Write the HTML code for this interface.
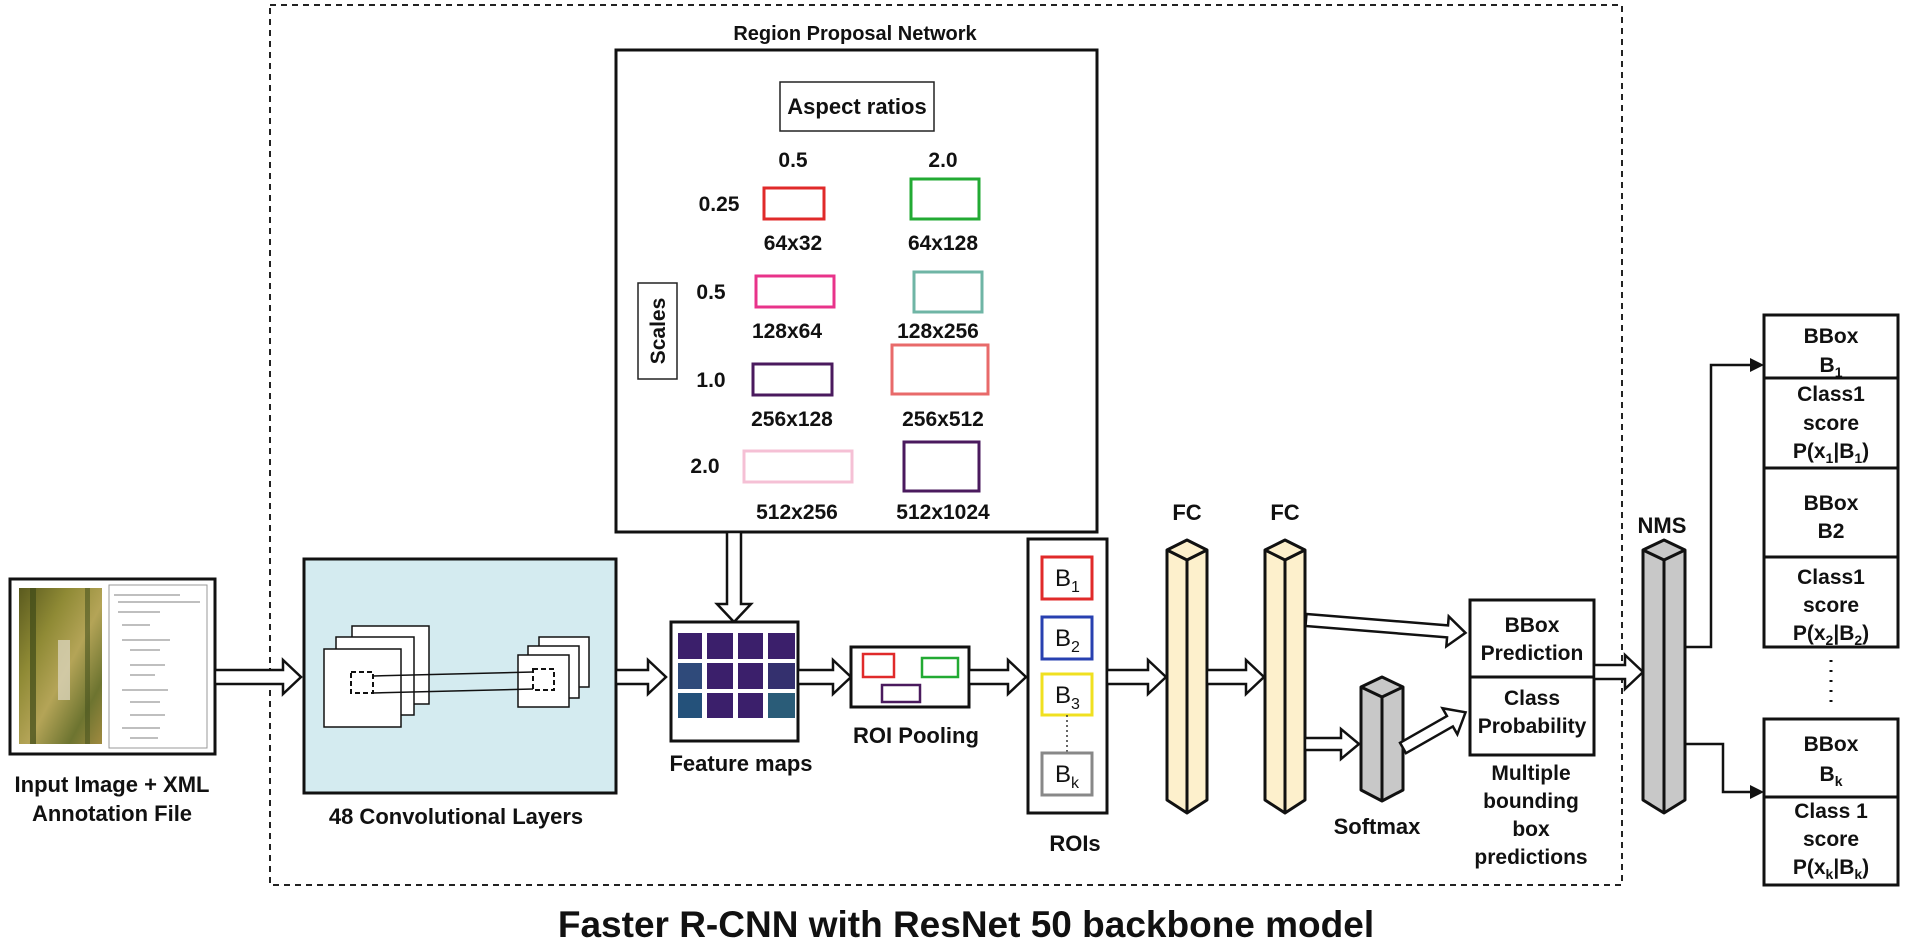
<!DOCTYPE html>
<html><head><meta charset="utf-8"><style>
html,body{margin:0;padding:0;background:#fff;}
svg{display:block;}
text{font-family:"Liberation Sans",Arial,sans-serif;font-weight:bold;fill:#111;}
</style></head><body>
<svg width="1905" height="941" viewBox="0 0 1905 941" xmlns="http://www.w3.org/2000/svg">
<defs>
<linearGradient id="photo" x1="0" y1="0" x2="1" y2="1">
<stop offset="0" stop-color="#5a5a1e"/><stop offset="0.3" stop-color="#8f8a35"/><stop offset="0.55" stop-color="#b4a457"/><stop offset="0.8" stop-color="#6d7430"/><stop offset="1" stop-color="#a08a40"/>
</linearGradient>
</defs>
<!-- dashed outer -->
<rect x="270" y="5" width="1352" height="880" fill="none" stroke="#222" stroke-width="2" stroke-dasharray="6,5"/>
<text x="966" y="937" font-size="37" text-anchor="middle">Faster R-CNN with ResNet 50 backbone model</text>

<!-- RPN -->
<text x="855" y="40" font-size="20" text-anchor="middle">Region Proposal Network</text>
<rect x="616" y="50" width="481" height="482" fill="#fff" stroke="#111" stroke-width="3"/>
<rect x="780" y="82" width="154" height="49" fill="#fff" stroke="#222" stroke-width="1.5"/>
<text x="857" y="114" font-size="22" text-anchor="middle">Aspect ratios</text>
<g font-size="21" text-anchor="middle">
<text x="793" y="167">0.5</text><text x="943" y="167">2.0</text>
<text x="719" y="211">0.25</text>
<text x="793" y="250">64x32</text><text x="943" y="250">64x128</text>
<text x="711" y="299">0.5</text>
<text x="787" y="338">128x64</text><text x="938" y="338">128x256</text>
<text x="711" y="387">1.0</text>
<text x="792" y="426">256x128</text><text x="943" y="426">256x512</text>
<text x="705" y="473">2.0</text>
<text x="797" y="519">512x256</text><text x="943" y="519">512x1024</text>
</g>
<rect x="764" y="188" width="60" height="31" fill="none" stroke="#e02a2a" stroke-width="3"/>
<rect x="911" y="179" width="68" height="40" fill="none" stroke="#22aa33" stroke-width="3"/>
<rect x="756" y="276" width="78" height="31" fill="none" stroke="#e8338a" stroke-width="3"/>
<rect x="914" y="272" width="68" height="40" fill="none" stroke="#6fb5a5" stroke-width="3"/>
<rect x="753" y="364" width="79" height="31" fill="none" stroke="#4a1a5e" stroke-width="3"/>
<rect x="892" y="345" width="96" height="49" fill="none" stroke="#e86a6a" stroke-width="3"/>
<rect x="744" y="451" width="108" height="31" fill="none" stroke="#f5c0d5" stroke-width="3"/>
<rect x="904" y="442" width="75" height="49" fill="none" stroke="#4a1a5e" stroke-width="3"/>
<rect x="638" y="283" width="39" height="96" fill="#fff" stroke="#222" stroke-width="1.5"/>
<text x="0" y="0" font-size="21" text-anchor="middle" transform="translate(665,331) rotate(-90)">Scales</text>

<!-- down arrow -->
<polygon points="727,532 727,604 717,604 734,622 751,604 741,604 741,532" fill="#fff" stroke="#111" stroke-width="2.5"/>

<!-- input image -->
<rect x="10" y="579" width="205" height="175" fill="#fff" stroke="#111" stroke-width="3"/>
<rect x="19" y="588" width="83" height="156" fill="url(#photo)"/>
<rect x="30" y="588" width="6" height="156" fill="#3f4a18" opacity="0.7"/>
<rect x="58" y="640" width="12" height="60" fill="#d8d2b8" opacity="0.8"/>
<rect x="85" y="588" width="5" height="156" fill="#4a5520" opacity="0.6"/>
<rect x="109" y="585" width="98" height="163" fill="#fff" stroke="#999" stroke-width="1"/>
<g stroke="#aaa" stroke-width="1.5">
<line x1="114" y1="595" x2="180" y2="595"/><line x1="118" y1="602" x2="200" y2="602"/><line x1="118" y1="612" x2="160" y2="612"/>
<line x1="122" y1="625" x2="150" y2="625"/><line x1="122" y1="640" x2="170" y2="640"/><line x1="130" y1="650" x2="160" y2="650"/>
<line x1="130" y1="665" x2="165" y2="665"/><line x1="130" y1="675" x2="155" y2="675"/><line x1="122" y1="690" x2="168" y2="690"/>
<line x1="130" y1="702" x2="160" y2="702"/><line x1="130" y1="715" x2="165" y2="715"/><line x1="122" y1="728" x2="160" y2="728"/><line x1="130" y1="738" x2="158" y2="738"/>
</g>
<text x="112" y="792" font-size="22" text-anchor="middle">Input Image + XML</text>
<text x="112" y="821" font-size="22" text-anchor="middle">Annotation File</text>

<polygon points="215,670 283,670 283,660 301,677 283,694 283,684 215,684" fill="#fff" stroke="#111" stroke-width="2.5"/>

<!-- conv -->
<rect x="304" y="559" width="312" height="234" fill="#d4ebf0" stroke="#111" stroke-width="3"/>
<g fill="#fff" stroke="#111" stroke-width="1.5">
<rect x="352" y="626" width="77" height="78"/>
<rect x="336" y="637" width="78" height="78"/>
<rect x="324" y="649" width="77" height="78"/>
<rect x="539" y="637" width="50" height="50"/>
<rect x="528" y="646" width="51" height="52"/>
<rect x="518" y="655" width="51" height="52"/>
</g>
<rect x="351" y="672" width="22" height="21" fill="none" stroke="#111" stroke-width="2" stroke-dasharray="5,3"/>
<rect x="533" y="669" width="21" height="21" fill="none" stroke="#111" stroke-width="2" stroke-dasharray="5,3"/>
<line x1="373" y1="676" x2="533" y2="672" stroke="#111" stroke-width="1.5"/>
<line x1="373" y1="693" x2="533" y2="689" stroke="#111" stroke-width="1.5"/>
<text x="456" y="824" font-size="22" text-anchor="middle">48 Convolutional Layers</text>

<polygon points="616,670 648,670 648,660 666,677 648,694 648,684 616,684" fill="#fff" stroke="#111" stroke-width="2.5"/>

<!-- feature maps -->
<rect x="671" y="622" width="127" height="119" fill="#fff" stroke="#111" stroke-width="3"/>
<g fill="#3b1f6b">
<rect x="678" y="633" width="24" height="26"/><rect x="707" y="633" width="26" height="26"/><rect x="738" y="633" width="25" height="26"/><rect x="768" y="633" width="27" height="26"/>
<rect x="678" y="663" width="24" height="26" fill="#2f4a7a"/><rect x="707" y="663" width="26" height="26"/><rect x="738" y="663" width="25" height="26"/><rect x="768" y="663" width="27" height="26" fill="#34306e"/>
<rect x="678" y="693" width="24" height="25" fill="#24517a"/><rect x="707" y="693" width="26" height="25"/><rect x="738" y="693" width="25" height="25"/><rect x="768" y="693" width="27" height="25" fill="#2a5c78"/>
</g>
<text x="741" y="771" font-size="22" text-anchor="middle">Feature maps</text>

<polygon points="798,670 833,670 833,660 851,677 833,694 833,684 798,684" fill="#fff" stroke="#111" stroke-width="2.5"/>

<!-- ROI pooling -->
<rect x="851" y="647" width="118" height="60" fill="#fff" stroke="#111" stroke-width="3"/>
<rect x="863" y="654" width="31" height="23" fill="none" stroke="#e02a2a" stroke-width="2.5"/>
<rect x="922" y="658" width="36" height="19" fill="none" stroke="#22aa33" stroke-width="2.5"/>
<rect x="882" y="685" width="38" height="17" fill="none" stroke="#4a1a5e" stroke-width="2.5"/>
<text x="916" y="743" font-size="22" text-anchor="middle">ROI Pooling</text>

<polygon points="969,670 1008,670 1008,660 1026,677 1008,694 1008,684 969,684" fill="#fff" stroke="#111" stroke-width="2.5"/>

<!-- ROIs -->
<rect x="1028" y="539" width="79" height="274" fill="#fff" stroke="#111" stroke-width="3"/>
<rect x="1042" y="557" width="50" height="42" fill="#fff" stroke="#e02a2a" stroke-width="3"/>
<rect x="1042" y="617" width="50" height="42" fill="#fff" stroke="#2840b0" stroke-width="3"/>
<rect x="1042" y="674" width="50" height="41" fill="#fff" stroke="#f0e020" stroke-width="3"/>
<line x1="1067" y1="715" x2="1067" y2="753" stroke="#333" stroke-width="1.5" stroke-dasharray="2,3"/>
<rect x="1042" y="753" width="50" height="42" fill="#fff" stroke="#888" stroke-width="3"/>
<g font-size="24" font-weight="normal">
<text x="1055" y="586" style="font-weight:normal">B<tspan font-size="16" dy="6">1</tspan></text>
<text x="1055" y="646" style="font-weight:normal">B<tspan font-size="16" dy="6">2</tspan></text>
<text x="1055" y="703" style="font-weight:normal">B<tspan font-size="16" dy="6">3</tspan></text>
<text x="1055" y="782" style="font-weight:normal">B<tspan font-size="16" dy="6">k</tspan></text>
</g>
<text x="1075" y="851" font-size="22" text-anchor="middle">ROIs</text>

<polygon points="1107,670 1148,670 1148,660 1166,677 1148,694 1148,684 1107,684" fill="#fff" stroke="#111" stroke-width="2.5"/>

<!-- FC1 -->
<g stroke="#111" stroke-width="3" fill="#fdf0cc" stroke-linejoin="round">
<polygon points="1167,550 1187,540 1207,550 1207,800 1187,813 1167,800"/>
<polyline points="1167,550 1187,560 1207,550" fill="none"/>
<line x1="1187" y1="560" x2="1187" y2="813"/>
</g>
<text x="1187" y="520" font-size="22" text-anchor="middle">FC</text>

<polygon points="1207,670 1246,670 1246,660 1264,677 1246,694 1246,684 1207,684" fill="#fff" stroke="#111" stroke-width="2.5"/>

<!-- FC2 -->
<g stroke="#111" stroke-width="3" fill="#fdf0cc" stroke-linejoin="round">
<polygon points="1265,550 1285,540 1305,550 1305,800 1285,813 1265,800"/>
<polyline points="1265,550 1285,560 1305,550" fill="none"/>
<line x1="1285" y1="560" x2="1285" y2="813"/>
</g>
<text x="1285" y="520" font-size="22" text-anchor="middle">FC</text>

<!-- slanted arrow to bbox -->
<g transform="translate(1306,620) rotate(4.6)">
<polygon points="0,-6 142,-6 142,-15 160,0 142,15 142,6 0,6" fill="#fff" stroke="#111" stroke-width="2.5"/>
</g>
<!-- arrow to softmax -->
<polygon points="1305,738 1341,738 1341,729 1359,744 1341,759 1341,750 1305,750" fill="#fff" stroke="#111" stroke-width="2.5"/>
<!-- softmax -->
<g stroke="#111" stroke-width="3" fill="#c8c8c8" stroke-linejoin="round">
<polygon points="1361,687 1382,677 1403,687 1403,790 1382,801 1361,790"/>
<polyline points="1361,687 1382,697 1403,687" fill="none"/>
<line x1="1382" y1="697" x2="1382" y2="801"/>
</g>
<text x="1377" y="834" font-size="22" text-anchor="middle">Softmax</text>
<g transform="translate(1403,748) rotate(-29.7)">
<polygon points="0,-6 54,-6 54,-15 72,0 54,15 54,6 0,6" fill="#fff" stroke="#111" stroke-width="2.5"/>
</g>

<!-- bbox/class box -->
<rect x="1470" y="600" width="124" height="155" fill="#fff" stroke="#111" stroke-width="3"/>
<line x1="1470" y1="677" x2="1594" y2="677" stroke="#111" stroke-width="3"/>
<g font-size="21" text-anchor="middle">
<text x="1532" y="632">BBox</text><text x="1532" y="660">Prediction</text>
<text x="1532" y="705">Class</text><text x="1532" y="733">Probability</text>
<text x="1531" y="780">Multiple</text><text x="1531" y="808">bounding</text><text x="1531" y="836">box</text><text x="1531" y="864">predictions</text>
</g>

<polygon points="1594,665 1625,665 1625,655 1643,672 1625,689 1625,679 1594,679" fill="#fff" stroke="#111" stroke-width="2.5"/>

<!-- NMS -->
<g stroke="#111" stroke-width="3" fill="#c8c8c8" stroke-linejoin="round">
<polygon points="1643,550 1664,540 1685,550 1685,800 1664,813 1643,800"/>
<polyline points="1643,550 1664,560 1685,550" fill="none"/>
<line x1="1664" y1="560" x2="1664" y2="813"/>
</g>
<text x="1662" y="533" font-size="22" text-anchor="middle">NMS</text>

<g stroke="#111" stroke-width="2.5" fill="none">
<polyline points="1685,647 1711,647 1711,365 1752,365"/>
<polyline points="1685,744 1723,744 1723,792 1752,792"/>
</g>
<polygon points="1764,365 1750,358 1750,372" fill="#111"/>
<polygon points="1764,792 1750,785 1750,799" fill="#111"/>

<!-- right column -->
<g fill="#fff" stroke="#111" stroke-width="3">
<rect x="1764" y="315" width="134" height="332"/>
<rect x="1764" y="719" width="134" height="166"/>
</g>
<g stroke="#111" stroke-width="3">
<line x1="1764" y1="378" x2="1898" y2="378"/>
<line x1="1764" y1="468" x2="1898" y2="468"/>
<line x1="1764" y1="557" x2="1898" y2="557"/>
<line x1="1764" y1="797" x2="1898" y2="797"/>
</g>
<line x1="1831" y1="660" x2="1831" y2="705" stroke="#111" stroke-width="3" stroke-dasharray="2,8"/>
<g font-size="21" text-anchor="middle">
<text x="1831" y="343">BBox</text>
<text x="1831" y="372">B<tspan font-size="14" dy="5">1</tspan></text>
<text x="1831" y="401">Class1</text>
<text x="1831" y="430">score</text>
<text x="1831" y="458">P(x<tspan font-size="14" dy="5">1</tspan><tspan dy="-5">|B</tspan><tspan font-size="14" dy="5">1</tspan><tspan dy="-5">)</tspan></text>
<text x="1831" y="510">BBox</text>
<text x="1831" y="538">B2</text>
<text x="1831" y="584">Class1</text>
<text x="1831" y="612">score</text>
<text x="1831" y="640">P(x<tspan font-size="14" dy="5">2</tspan><tspan dy="-5">|B</tspan><tspan font-size="14" dy="5">2</tspan><tspan dy="-5">)</tspan></text>
<text x="1831" y="751">BBox</text>
<text x="1831" y="781">B<tspan font-size="14" dy="5">k</tspan></text>
<text x="1831" y="818">Class 1</text>
<text x="1831" y="846">score</text>
<text x="1831" y="874">P(x<tspan font-size="14" dy="5">k</tspan><tspan dy="-5">|B</tspan><tspan font-size="14" dy="5">k</tspan><tspan dy="-5">)</tspan></text>
</g>
</svg>
</body></html>
